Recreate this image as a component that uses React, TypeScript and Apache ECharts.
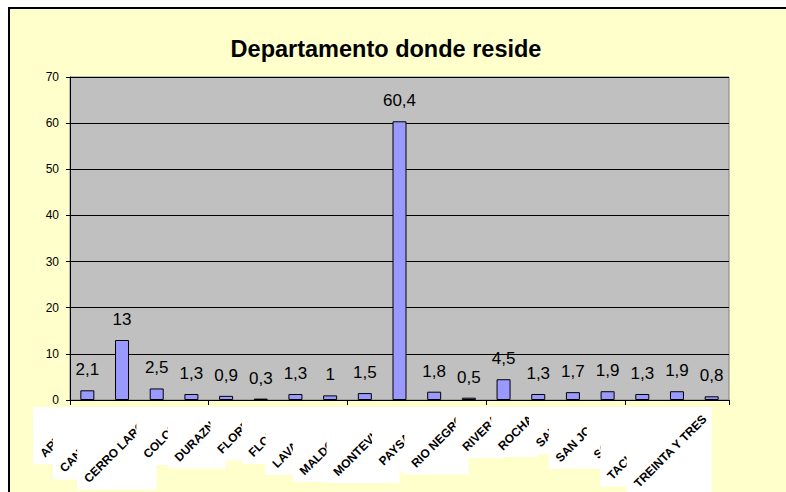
import React, { useEffect, useRef } from "react";
import * as echarts from "echarts";

const titleText = "Departamento donde reside";
const departments = [
  "ARTIGAS", "CANELONES", "CERRO LARGO", "COLONIA", "DURAZNO", "FLORES", "FLORIDA",
  "LAVALLEJA", "MALDONADO", "MONTEVIDEO", "PAYSANDU", "RIO NEGRO", "RIVERA", "ROCHA",
  "SALTO", "SAN JOSE", "SORIANO", "TACUAREMBO", "TREINTA Y TRES",
];
const percents = [2.1, 13, 2.5, 1.3, 0.9, 0.3, 1.3, 1, 1.5, 60.4, 1.8, 0.5, 4.5, 1.3, 1.7, 1.9, 1.3, 1.9, 0.8];
const yMin = 0;
const yMax = 70;
const yStep = 10;

const LABEL_FONT = "bold 12px Arial";

function measure(text: string, font: string): number {
  const c = document.createElement("canvas");
  const ctx = c.getContext("2d");
  if (!ctx) return text.length * 7;
  ctx.font = font;
  return ctx.measureText(text).width;
}

export default function App() {
  const ref = useRef<HTMLDivElement>(null);

  useEffect(() => {
    document.body.style.margin = "0";
    if (!ref.current) return;
    const chart = echarts.init(ref.current, null, { renderer: "svg" });

    const baseGraphic: any[] = [
      {
        type: "rect",
        z: -10,
        shape: { x: 9, y: 8, width: 800, height: 500 },
        style: { fill: "#FFFFCC", stroke: "#000", lineWidth: 2 },
        silent: true,
      },
      {
        type: "text",
        z: 10,
        x: 386,
        y: 49,
        style: {
          text: titleText,
          font: "bold 23.5px Arial",
          fill: "#000",
          align: "center",
          verticalAlign: "middle",
        },
        silent: true,
      },
    ];

    chart.setOption({
      animation: false,
      textStyle: { fontFamily: "Arial" },
      grid: {
        left: 70,
        top: 77,
        width: 659,
        height: 323,
        show: true,
        backgroundColor: "#C0C0C0",
        borderColor: "#808080",
        borderWidth: 1,
      },
      xAxis: {
        type: "category",
        data: departments,
        axisLine: { show: true, lineStyle: { color: "#000", width: 1 } },
        axisTick: { show: true, length: 5, lineStyle: { color: "#000" } },
        axisLabel: { show: false },
      },
      yAxis: {
        type: "value",
        min: yMin,
        max: yMax,
        interval: yStep,
        axisLine: { show: true, lineStyle: { color: "#000", width: 1 } },
        axisTick: { show: true, length: 4, lineStyle: { color: "#000" } },
        axisLabel: { fontSize: 12, color: "#000", margin: 11, fontFamily: "Arial" },
        splitLine: { show: true, lineStyle: { color: "#000", width: 1 } },
      },
      series: [
        {
          type: "bar",
          data: percents,
          barWidth: 14,
          itemStyle: { color: "#9999FF", borderColor: "#000", borderWidth: 1 },
          label: {
            show: true,
            position: "top",
            distance: 12,
            fontSize: 17,
            fontFamily: "Arial",
            color: "#000",
            formatter: (p: any) => String(p.value).replace(".", ","),
          },
        },
      ],
      graphic: baseGraphic,
    });

    const axisY = chart.convertToPixel({ yAxisIndex: 0 }, yMin) as number;
    const h = 14;
    const pad = 4;
    const labelEls: any[] = [];
    departments.forEach((name, i) => {
      const cx = chart.convertToPixel({ xAxisIndex: 0 }, name) as number;
      const ax = cx - 7;
      const ay = axisY + 17;
      const w = measure(name, LABEL_FONT);
      const s = Math.SQRT1_2;
      const x0 = ax - s * w - s * h / 2 - pad;
      const x1 = ax + s * h / 2 + pad - 2;
      const y0 = ay - s * h / 2 - pad - 1;
      const y1 = ay + s * w + s * h / 2 + pad;
      labelEls.push({
        type: "rect",
        z: 20 + i * 2,
        shape: { x: x0, y: y0, width: x1 - x0, height: y1 - y0 },
        style: { fill: "#FFFFFF" },
        silent: true,
      });
      labelEls.push({
        type: "text",
        z: 21 + i * 2,
        x: ax,
        y: ay,
        rotation: Math.PI / 4,
        style: {
          text: name,
          font: LABEL_FONT,
          fill: "#000",
          align: "right",
          verticalAlign: "middle",
        },
        silent: true,
      });
    });

    chart.setOption({ graphic: [...baseGraphic, ...labelEls] }, { replaceMerge: ["graphic"] });

    return () => chart.dispose();
  }, []);

  return <div ref={ref} style={{ width: 786, height: 492 }} />;
}
